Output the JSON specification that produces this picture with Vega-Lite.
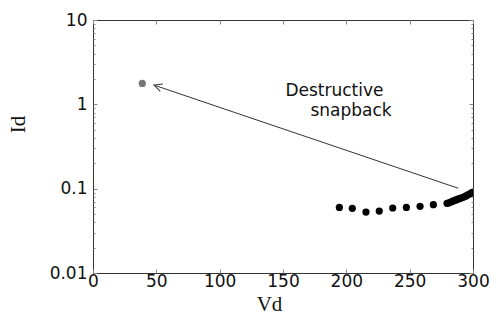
{
  "$schema": "https://vega.github.io/schema/vega-lite/v6.json",
  "width": 380,
  "height": 253,
  "autosize": "none",
  "padding": {"left": 93, "top": 20, "right": 18, "bottom": 41},
  "background": "white",
  "config": {
    "view": {"stroke": "#333", "strokeWidth": 1},
    "axis": {
      "domain": false,
      "grid": false,
      "labelFont": "DejaVu Sans",
      "labelFontSize": 17,
      "labelColor": "#111",
      "titleFont": "Liberation Serif",
      "titleFontSize": 21,
      "titleFontWeight": "normal",
      "titleColor": "#111",
      "tickColor": "#888",
      "tickWidth": 1
    }
  },
  "datasets": {
    "pts": [
      {"Vd": 38.9, "Id": 1.77, "grp": "after"},
      {"Vd": 194.5, "Id": 0.060, "grp": "before"},
      {"Vd": 204.7, "Id": 0.0585, "grp": "before"},
      {"Vd": 215.5, "Id": 0.0528, "grp": "before"},
      {"Vd": 226.0, "Id": 0.0543, "grp": "before"},
      {"Vd": 236.6, "Id": 0.059, "grp": "before"},
      {"Vd": 247.4, "Id": 0.060, "grp": "before"},
      {"Vd": 258.2, "Id": 0.0618, "grp": "before"},
      {"Vd": 268.7, "Id": 0.0646, "grp": "before"},
      {"Vd": 279.5, "Id": 0.067, "grp": "before"},
      {"Vd": 281.0, "Id": 0.068, "grp": "before"},
      {"Vd": 282.5, "Id": 0.0695, "grp": "before"},
      {"Vd": 284.0, "Id": 0.071, "grp": "before"},
      {"Vd": 285.5, "Id": 0.0725, "grp": "before"},
      {"Vd": 287.0, "Id": 0.074, "grp": "before"},
      {"Vd": 288.5, "Id": 0.0755, "grp": "before"},
      {"Vd": 290.0, "Id": 0.077, "grp": "before"},
      {"Vd": 291.5, "Id": 0.0785, "grp": "before"},
      {"Vd": 293.0, "Id": 0.080, "grp": "before"},
      {"Vd": 294.5, "Id": 0.082, "grp": "before"},
      {"Vd": 296.0, "Id": 0.0845, "grp": "before"},
      {"Vd": 297.5, "Id": 0.087, "grp": "before"},
      {"Vd": 299.0, "Id": 0.089, "grp": "before"},
      {"Vd": 300.5, "Id": 0.091, "grp": "before"}
    ],
    "arrow": [
      {"Vd": 288.4, "Id": 0.101, "end": "tail"},
      {"Vd": 48.2, "Id": 1.69, "end": "head"}
    ],
    "labels": [
      {"Vd": 190.6, "Id": 1.45, "text": "Destructive"},
      {"Vd": 203.7, "Id": 0.834, "text": "snapback"}
    ]
  },
  "resolve": {
    "scale": {"x": "shared", "y": "shared"},
    "axis": {"x": "independent", "y": "independent"}
  },
  "layer": [
    {
      "data": {"name": "pts"},
      "mark": {"type": "point", "filled": true, "size": 52, "opacity": 1, "clip": true},
      "encoding": {
        "x": {
          "field": "Vd", "type": "quantitative",
          "scale": {"domain": [0, 300], "nice": false, "zero": false},
          "axis": {
            "orient": "bottom", "title": "Vd",
            "values": [0, 50, 100, 150, 200, 250, 300],
            "tickSize": -4, "labelPadding": 4,
            "labelFlush": false, "labelBaseline": "top",
            "titleX": 176, "titleY": 31, "titleBaseline": "middle", "titleAlign": "center"
          }
        },
        "y": {
          "field": "Id", "type": "quantitative",
          "scale": {"type": "log", "domain": [0.01, 10], "nice": false},
          "axis": {
            "orient": "left", "title": "Id",
            "values": [0.01, 0.02, 0.03, 0.04, 0.05, 0.06, 0.07, 0.08, 0.09, 0.1, 0.2, 0.3, 0.4, 0.5, 0.6, 0.7, 0.8, 0.9, 1, 2, 3, 4, 5, 6, 7, 8, 9, 10],
            "labelExpr": "indexof([0.01, 0.1, 1, 10], datum.value) >= 0 ? (datum.value == 0.01 ? '0.01' : datum.value == 0.1 ? '0.1' : format(datum.value, 'd')) : ''",
            "tickSize": {"condition": {"test": "indexof([0.01, 0.1, 1, 10], datum.value) >= 0", "value": -4}, "value": -2},
            "labelPadding": 10, "labelFlush": false, "labelOverlap": false, "labelBaseline": "middle",
            "titleX": -75, "titleY": 104, "titleAngle": -90, "titleAlign": "center", "titleBaseline": "middle"
          }
        },
        "color": {
          "field": "grp", "type": "nominal",
          "scale": {"domain": ["before", "after"], "range": ["#000000", "#777777"]},
          "legend": null
        }
      }
    },
    {
      "data": {"name": "arrow"},
      "mark": {"type": "line", "color": "#333", "strokeWidth": 1},
      "encoding": {
        "x": {
          "field": "Vd", "type": "quantitative",
          "axis": {
            "orient": "top", "title": null, "labels": false,
            "values": [0, 50, 100, 150, 200, 250, 300], "tickSize": -4
          }
        },
        "y": {
          "field": "Id", "type": "quantitative",
          "axis": {
            "orient": "right", "title": null, "labels": false,
            "values": [0.01, 0.02, 0.03, 0.04, 0.05, 0.06, 0.07, 0.08, 0.09, 0.1, 0.2, 0.3, 0.4, 0.5, 0.6, 0.7, 0.8, 0.9, 1, 2, 3, 4, 5, 6, 7, 8, 9, 10],
            "tickSize": {"condition": {"test": "indexof([0.01, 0.1, 1, 10], datum.value) >= 0", "value": -4}, "value": -2}
          }
        }
      }
    },
    {
      "data": {"name": "arrow"},
      "transform": [{"filter": "datum.end == 'head'"}],
      "mark": {"type": "point", "shape": "M1.6,-0.8L0,0L1.6,0.8", "filled": false, "stroke": "#333", "strokeWidth": 1, "size": 100, "angle": 18.75, "opacity": 1},
      "encoding": {
        "x": {"field": "Vd", "type": "quantitative", "axis": null},
        "y": {"field": "Id", "type": "quantitative", "axis": null}
      }
    },
    {
      "data": {"name": "labels"},
      "mark": {"type": "text", "font": "DejaVu Sans", "fontSize": 17, "color": "#111", "align": "center", "baseline": "middle"},
      "encoding": {
        "x": {"field": "Vd", "type": "quantitative", "axis": null},
        "y": {"field": "Id", "type": "quantitative", "axis": null},
        "text": {"field": "text"}
      }
    }
  ]
}
